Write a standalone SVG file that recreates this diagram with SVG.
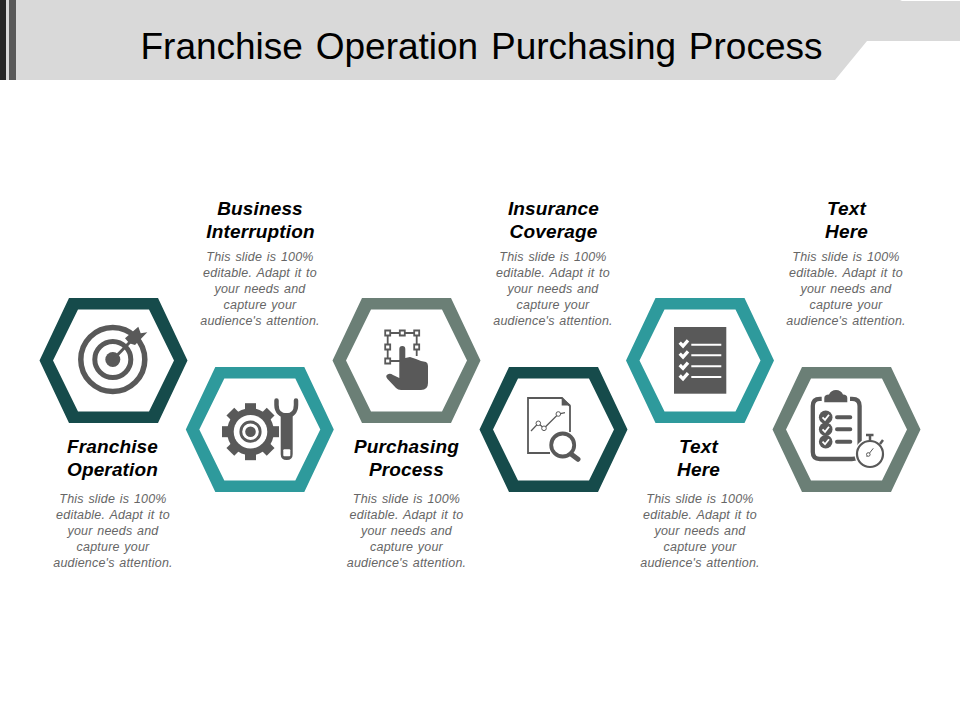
<svg xmlns="http://www.w3.org/2000/svg" width="960" height="720" viewBox="0 0 960 720">
<style>
text{font-family:"Liberation Sans",Arial,sans-serif;text-anchor:middle}
.h{font-size:19px;font-weight:bold;font-style:italic;fill:#000;letter-spacing:.15px}
.b{font-size:12.500px;font-style:italic;fill:#666;word-spacing:1px;letter-spacing:.2px}
.i{fill:#595959}
.l{fill:none;stroke:#595959}
.w{fill:none;stroke:#fff}
.a{fill:#164b4b}.c{fill:#2e9a9c}.g{fill:#6b7f76}
</style>
<defs>
<path id="hex" fill-rule="evenodd" d="M-44.500-62.500H44.500L74 0 44.500 62.500H-44.500L-74 0ZM-35.500-51L-60.500 0-35.500 51H35.500L60.500 0 35.500-51Z"/>
</defs>
<g id="header">
<path d="M0 0H900L902 1 960 1V41H867L835 80H0Z" fill="#d9d9d9"/>
<rect x="0" y="0" width="6" height="80" fill="#262626"/>
<rect x="9" y="0" width="7" height="80" fill="#595959"/>
<text x="481.500" y="59" font-size="37" word-spacing="2.500" fill="#000">Franchise Operation Purchasing Process</text>
</g>
<g id="node1">
<use href="#hex" x="113.500" y="360.500" class="a"/>
<circle cx="112.800" cy="359.500" r="32" class="l" stroke-width="5.500"/>
<circle cx="112.800" cy="359.500" r="18" class="l" stroke-width="5"/>
<circle cx="112.800" cy="359.500" r="7.500" class="i"/>
<path d="M113 359.500L131 341" class="l" stroke-width="3"/>
<path d="M125 338.300L138.300 326.700 140.700 333.300 147.300 332.300 135 345 129.300 343.300Z" class="i"/>
<text class="h" x="112.500" y="453">Franchise</text><text class="h" x="112.500" y="476">Operation</text>
<text class="b" x="113" y="503">This slide is 100%</text><text class="b" x="113" y="519">editable. Adapt it to</text><text class="b" x="113" y="535">your needs and</text><text class="b" x="113" y="551">capture your</text><text class="b" x="113" y="567">audience's attention.</text>
</g>
<g id="node2">
<use href="#hex" x="259.800" y="429.500" class="c"/>
<circle cx="250.500" cy="431.700" r="23.500" class="i"/>
<g class="i" transform="translate(250.500 431.700)">
<rect x="-5.500" y="-28.500" width="11" height="10"/><rect x="-5.500" y="-28.500" width="11" height="10" transform="rotate(45)"/><rect x="-5.500" y="-28.500" width="11" height="10" transform="rotate(90)"/><rect x="-5.500" y="-28.500" width="11" height="10" transform="rotate(135)"/><rect x="-5.500" y="-28.500" width="11" height="10" transform="rotate(180)"/><rect x="-5.500" y="-28.500" width="11" height="10" transform="rotate(225)"/><rect x="-5.500" y="-28.500" width="11" height="10" transform="rotate(270)"/><rect x="-5.500" y="-28.500" width="11" height="10" transform="rotate(315)"/>
</g>
<circle cx="250.500" cy="431.700" r="16.800" fill="#fff"/>
<circle cx="250.500" cy="431.700" r="9.700" class="l" stroke-width="2.800"/>
<circle cx="250.500" cy="431.700" r="5.300" class="i"/>
<path d="M276.500 400.500V405C276.500 412 281 415.500 286.500 415.500 292 415.500 296 412 296 405V400.500" class="l" stroke-width="4.500" stroke-linecap="round"/>
<path d="M280.700 413H292.700V454Q292.700 460 286.700 460 280.700 460 280.700 454Z" class="i"/>
<rect x="283.300" y="449.300" width="7" height="7" rx="1" fill="#fff"/>
<text class="h" x="260" y="215">Business</text><text class="h" x="260.500" y="238">Interruption</text>
<text class="b" x="260" y="261">This slide is 100%</text><text class="b" x="260" y="277">editable. Adapt it to</text><text class="b" x="260" y="293">your needs and</text><text class="b" x="260" y="309">capture your</text><text class="b" x="260" y="325">audience's attention.</text>
</g>
<g id="node3">
<use href="#hex" x="406.500" y="360.500" class="g"/>
<path d="M387.700 333H416.700V356M387.700 333V361H400" class="l" stroke-width="1.800"/>
<path d="M385.200 330.500h5v5h-5zM399.800 330.500h5v5h-5zM414.200 330.500h5v5h-5zM385.200 344.500h5v5h-5zM414.200 344.500h5v5h-5zM385.200 358.500h5v5h-5z" fill="#fff" stroke="#595959" stroke-width="1.800"/>
<path d="M399.300 349Q399.300 346 402.300 346 405.300 346 405.300 349V358L410 357 416 359 421 361 426 362Q428 363 428 366V383Q428 390 421 390H401Q398 390 396 388L387.500 379Q385 376 387.500 374.500 390 373 393 375L399.300 378Z" class="i"/>
<text class="h" x="406.500" y="453">Purchasing</text><text class="h" x="406.500" y="476">Process</text>
<text class="b" x="406.500" y="503">This slide is 100%</text><text class="b" x="406.500" y="519">editable. Adapt it to</text><text class="b" x="406.500" y="535">your needs and</text><text class="b" x="406.500" y="551">capture your</text><text class="b" x="406.500" y="567">audience's attention.</text>
</g>
<g id="node4">
<use href="#hex" x="553.500" y="429.500" class="a"/>
<path d="M550 453H528V398H562L570 406V432" class="l" stroke-width="1.800"/>
<path d="M561.700 397.300L570.700 405V405.500H561.700Z" class="i"/>
<path d="M531 431L538.300 423.300 544 428.300 558.300 414 565 412.700" class="l" stroke-width="1.300"/>
<circle cx="538.300" cy="423.300" r="2.300" fill="#fff" stroke="#595959"/><circle cx="544" cy="428.300" r="2.300" fill="#fff" stroke="#595959"/><circle cx="558.300" cy="414" r="2.300" fill="#fff" stroke="#595959"/>
<circle cx="562.700" cy="445" r="11.500" fill="#fff" stroke="#595959" stroke-width="3.800"/>
<path d="M571 454L578 459.300" class="l" stroke-width="5" stroke-linecap="round"/>
<text class="h" x="553.500" y="215">Insurance</text><text class="h" x="553.500" y="238">Coverage</text>
<text class="b" x="553" y="261">This slide is 100%</text><text class="b" x="553" y="277">editable. Adapt it to</text><text class="b" x="553" y="293">your needs and</text><text class="b" x="553" y="309">capture your</text><text class="b" x="553" y="325">audience's attention.</text>
</g>
<g id="node5">
<use href="#hex" x="700" y="360.500" class="c"/>
<rect x="674" y="327" width="52.300" height="66.700" class="i"/>
<path d="M679.700 342.700L683 346 688 340.300M679.700 353.700L683 357 688 351.300M679.700 365L683 368.300 688 362.600M679.700 375.500L683 378.800 688 373.100" class="w" stroke-width="3.300"/>
<path d="M691.300 344.700H721.300M691.300 355.300H721.300M691.300 366.300H721.300M691.300 377H721.300" class="w" stroke-width="2"/>
<text class="h" x="698.500" y="453">Text</text><text class="h" x="698.500" y="476">Here</text>
<text class="b" x="700" y="503">This slide is 100%</text><text class="b" x="700" y="519">editable. Adapt it to</text><text class="b" x="700" y="535">your needs and</text><text class="b" x="700" y="551">capture your</text><text class="b" x="700" y="567">audience's attention.</text>
</g>
<g id="node6">
<use href="#hex" x="846.500" y="429.500" class="g"/>
<path d="M821.700 398.800H820Q812.800 398.800 812.800 406V452Q812.800 459 820 459H852Q859.600 459 859.600 452V406Q859.600 398.800 852 398.800H850" class="l" stroke-width="4.300"/>
<path d="M824.300 398Q824.300 394.500 829 394.500 831 390 836 390 841 390 843 394.500 847.300 394.500 847.300 398V402.300H824.300Z" class="i"/>
<circle cx="825.700" cy="417.300" r="6.800" class="i"/><circle cx="825.700" cy="429.300" r="6.800" class="i"/><circle cx="825.700" cy="441.700" r="6.800" class="i"/>
<path d="M822.500 417.300L825 419.800 829 414.800M822.500 429.300L825 431.800 829 426.800M822.500 441.700L825 444.200 829 439.200" class="w" stroke-width="1.800"/>
<path d="M837 417.300H850.300M837 429.300H850.300M837 441.700H850.300" class="l" stroke-width="4" stroke-linecap="round"/>
<circle cx="870" cy="454" r="15.500" fill="#fff"/>
<circle cx="870" cy="454" r="13" fill="#fff" stroke="#595959" stroke-width="2.200"/>
<path d="M870 441V436M866 435H873.500M880 444L883 440" class="l" stroke-width="2.500"/>
<path d="M866.700 456.700L873.300 448.300" class="l" stroke-width="1"/>
<circle cx="868.300" cy="454.500" r="1.800" fill="#fff" stroke="#595959"/>
<text class="h" x="846.500" y="215">Text</text><text class="h" x="846.500" y="238">Here</text>
<text class="b" x="846" y="261">This slide is 100%</text><text class="b" x="846" y="277">editable. Adapt it to</text><text class="b" x="846" y="293">your needs and</text><text class="b" x="846" y="309">capture your</text><text class="b" x="846" y="325">audience's attention.</text>
</g>
<g id="connectors"></g>
</svg>
